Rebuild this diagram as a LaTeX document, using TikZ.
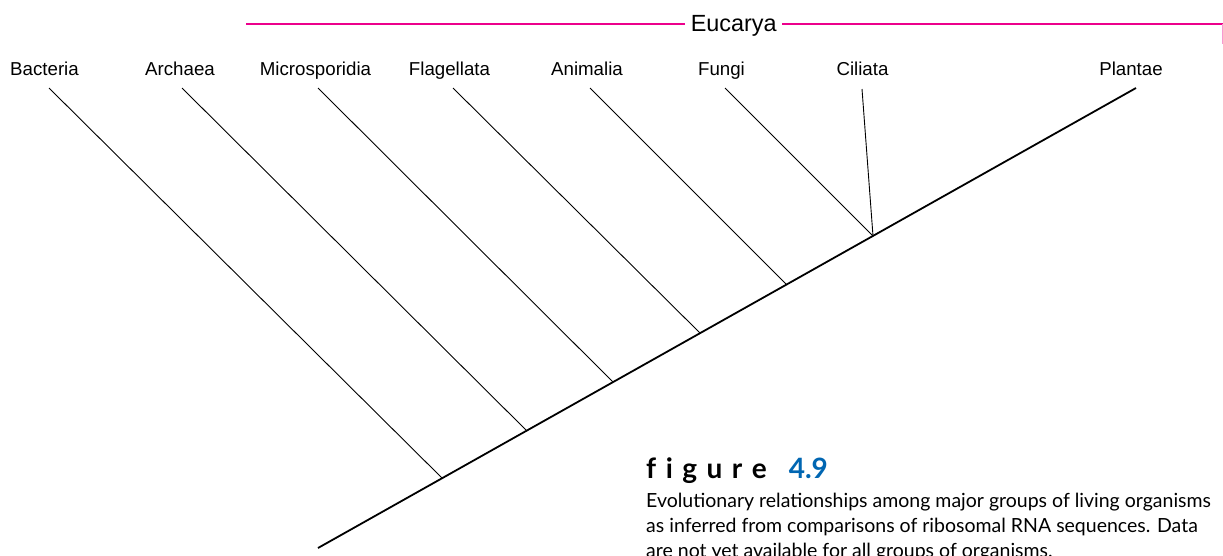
\documentclass[tikz,border=0pt]{standalone}
\usepackage{fontspec}
\setmainfont{Liberation Sans}
\newfontfamily\capfont{Lato}
\definecolor{euc}{RGB}{236,0,140}
\definecolor{figblue}{RGB}{0,102,178}
\begin{document}
\begin{tikzpicture}[x=1pt,y=-1pt,
  lab/.style={font=\fontsize{18.7}{20}\selectfont, inner sep=0pt, anchor=base},
  branch/.style={line width=0.9pt},
  trunk/.style={line width=1.8pt},
  pinkline/.style={draw=euc, line width=1.8pt}]
\useasboundingbox (0,0) rectangle (1223,555);
% labels
\node[lab] (bac) at (44.5,75) {Bacteria};
\node[lab] (arc) at (180,75) {Archaea};
\node[lab] (mic) at (315.5,75) {Microsporidia};
\node[lab] (fla) at (449.5,75) {Flagellata};
\node[lab] (ani) at (587,75) {Animalia};
\node[lab] (fun) at (721.5,75) {Fungi};
\node[lab] (cil) at (862.5,75) {Ciliata};
\node[lab] (pla) at (1131,75) {Plantae};
% trunk
\coordinate (root) at (318,548);
\coordinate (tip) at (1136,88);
\draw[trunk] (root) -- (tip);
% junctions on trunk
\coordinate (jbac) at (442,478);
\coordinate (jarc) at (527,431);
\coordinate (jmic) at (613,382);
\coordinate (jfla) at (700,333);
\coordinate (jani) at (787,285);
\coordinate (jfun) at (873,236);
% branch tops
\coordinate (tbac) at (49,88);
\coordinate (tarc) at (182,88);
\coordinate (tmic) at (318,88);
\coordinate (tfla) at (453,88);
\coordinate (tani) at (590,88);
\coordinate (tfun) at (725,88);
\coordinate (tcil) at (862,89);
\draw[branch] (tbac) -- (jbac);
\draw[branch] (tarc) -- (jarc);
\draw[branch] (tmic) -- (jmic);
\draw[branch] (tfla) -- (jfla);
\draw[branch] (tani) -- (jani);
\draw[branch] (tfun) -- (jfun);
\draw[branch] (tcil) -- (jfun);
% Eucarya bracket
\node[font=\fontsize{23.4}{25}\selectfont, inner xsep=5.5pt, inner ysep=0pt, anchor=base] (eu) at (733.7,31) {Eucarya};
\coordinate (eL) at (246,24);
\coordinate (eR) at (1222.5,24);
\coordinate (eT) at (1222.5,44);
\draw[pinkline] (eL) -- (eu.west |- eL);
\draw[pinkline] (eu.east |- eL) -- (eR);
\draw[draw=euc!40, line width=1.2pt] (eR) -- (eT);
% caption
\node[anchor=base west, inner sep=0pt, font=\capfont\fontsize{28}{30}\selectfont] (fig) at (646,478)
  {\textbf{f\hspace{9.5pt}i\hspace{9.5pt}g\hspace{9.5pt}u\hspace{9.5pt}r\hspace{9.5pt}e}\hspace{22pt}\textcolor{figblue}{\textbf{4.9}}};
\node[anchor=base west, inner sep=0pt, font=\capfont\fontsize{19.5}{25}\selectfont, align=left] (cap) at (646,557)
  {Evolutionary relationships among major groups of living organisms\\
   as inferred from comparisons of ribosomal RNA sequences. Data\\
   are not yet available for all groups of organisms.};
\end{tikzpicture}
\end{document}
